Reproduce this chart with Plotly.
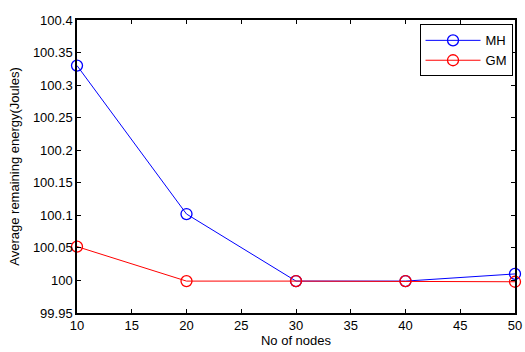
import plotly.graph_objects as go

nodes = [10, 20, 30, 40, 50]
mh = [100.33, 100.102, 99.999, 99.999, 100.01]
gm = [100.052, 99.999, 99.999, 99.999, 99.998]
x_ticks = [10, 15, 20, 25, 30, 35, 40, 45, 50]
y_ticks = [99.95, 100, 100.05, 100.1, 100.15, 100.2, 100.25, 100.3, 100.35, 100.4]
y_tick_text = ["99.95", "100", "100.05", "100.1", "100.15", "100.2", "100.25", "100.3", "100.35", "100.4"]

fig = go.Figure()
fig.add_trace(go.Scatter(x=nodes, y=mh, name="MH", mode="lines+markers",
                         line=dict(color="#0000ff", width=1),
                         marker=dict(symbol="circle-open", size=11, color="#0000ff", line=dict(width=1.3)),
                         cliponaxis=False))
fig.add_trace(go.Scatter(x=nodes, y=gm, name="GM", mode="lines+markers",
                         line=dict(color="#ff0000", width=1),
                         marker=dict(symbol="circle-open", size=11, color="#ff0000", line=dict(width=1.3)),
                         cliponaxis=False))

axis_common = dict(showgrid=False, zeroline=False, showline=True, linecolor="black", linewidth=1.5,
                   mirror="allticks", ticks="inside", ticklen=4, tickcolor="black",
                   ticklabeloverflow="allow",
                   tickfont=dict(family="Liberation Sans, Arial", size=13, color="black"))
fig.update_xaxes(range=[10, 50], tickvals=x_ticks, ticktext=[str(v) for v in x_ticks],
                 title=dict(text="No of nodes", font=dict(family="Liberation Sans, Arial", size=13, color="black"), standoff=4),
                 **axis_common)
fig.update_yaxes(range=[99.95, 100.4], tickvals=y_ticks, ticktext=y_tick_text,
                 title=dict(text="Average remaining energy(Joules)", font=dict(family="Liberation Sans, Arial", size=13, color="black"), standoff=10),
                 **axis_common)

fig.update_layout(width=525, height=352, margin=dict(l=77, r=3, t=20, b=39),
                  paper_bgcolor="white", plot_bgcolor="white",
                  legend=dict(x=0.782, y=0.985, xanchor="left", yanchor="top",
                              bordercolor="black", borderwidth=1, bgcolor="white",
                              font=dict(family="Liberation Sans, Arial", size=13, color="black"),
                              itemwidth=55, tracegroupgap=0))
fig.write_html("out.html")
